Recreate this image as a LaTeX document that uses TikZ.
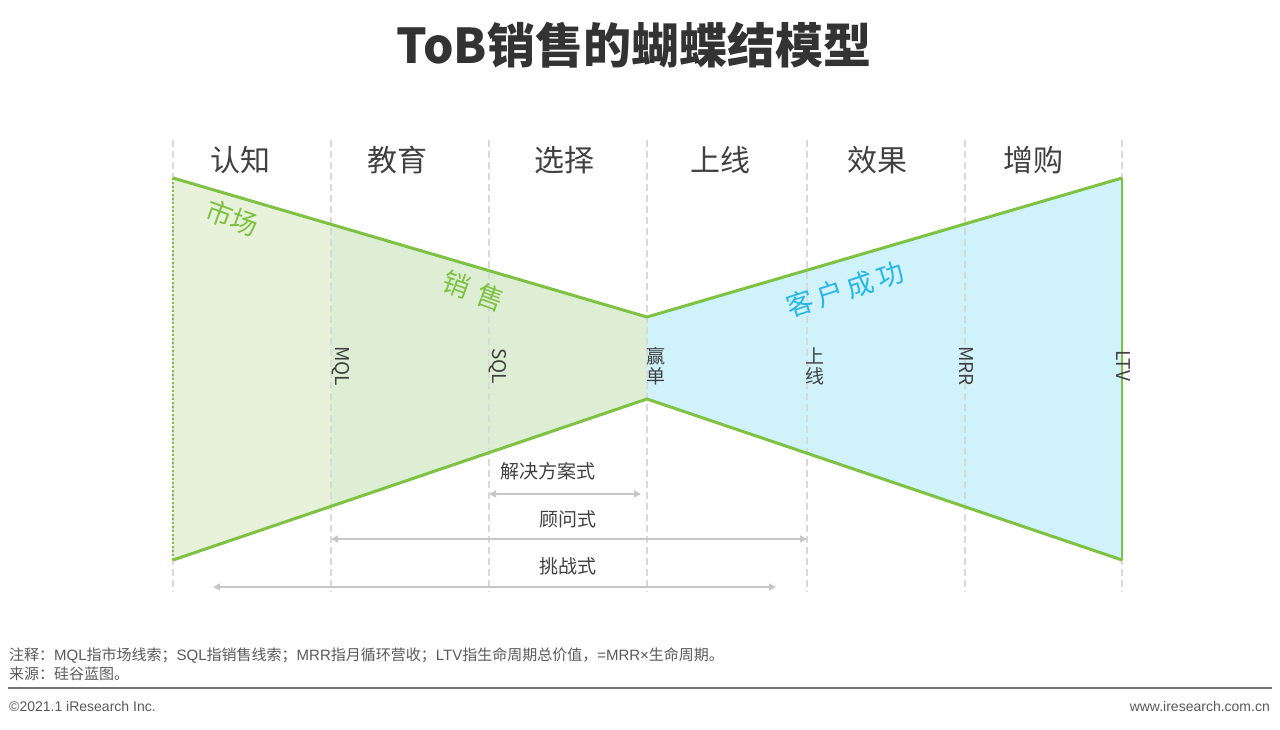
\documentclass[tikz,border=0pt]{standalone}
\usepackage{fontspec}
\setmainfont{Liberation Sans}
\newfontfamily\cjk{Noto Sans CJK SC}
\usetikzlibrary{arrows.meta}
\definecolor{gline}{HTML}{7DC241}
\definecolor{gfillA}{HTML}{E8F2DB}
\definecolor{gfillB}{HTML}{DDEED5}
\definecolor{bfill}{HTML}{CFF2FB}
\definecolor{ctext}{HTML}{29B6E8}
\definecolor{dtext}{HTML}{404040}
\tikzset{
  vdash/.style={draw=black!15,line width=1.5pt,dash pattern=on 7pt off 4pt},
  hdr/.style={font=\cjk\fontsize{30}{32}\selectfont,text=dtext},
  rot/.style={font=\cjk\fontsize{19}{20}\selectfont,text=dtext,inner sep=0pt},
  arr/.style={draw=black!22,line width=1.5pt,{Triangle[length=7pt,width=7pt]}-{Triangle[length=7pt,width=7pt]}},
  alab/.style={font=\cjk\fontsize{19}{20}\selectfont,text=dtext},
  foot/.style={font=\cjk\fontsize{15}{16}\selectfont,text=black!65,anchor=west,inner sep=0pt},
}
\begin{document}
\begin{tikzpicture}[x=1pt,y=-1pt]
\useasboundingbox (0,0) rectangle (1280,730);
% fills
\fill[gfillA] (173,178) -- (331,224) -- (331,507) -- (173,560) -- cycle;
\fill[gfillB] (331,224) -- (647,317) -- (647,399) -- (331,507) -- cycle;
\fill[bfill] (647,317) -- (1122,178) -- (1122,560) -- (647,399) -- cycle;
% dashed verticals
\foreach \x/\n in {173/v0,331/v1,489/v2,647/v3,807/v4,965/v5,1122/v6}{
  \coordinate (\n t) at (\x,140); \coordinate (\n b) at (\x,592);
  \draw[vdash] (\n t) -- (\n b);
}
\draw[gline,line width=1.5pt,dash pattern=on 2pt off 2pt] (173,178) -- (173,560);
\draw[gline,line width=1.5pt] (1122,178) -- (1122,560);
% outlines
\draw[gline,line width=3pt,line join=round] (173,178) -- (647,317) -- (1122,178);
\draw[gline,line width=3pt,line join=round] (173,560) -- (647,399) -- (1122,560);
% headers
\foreach \x/\t/\n in {240/认知/h1,397/教育/h2,564/选择/h3,720/上线/h4,877/效果/h5,1033/增购/h6}
  \node[hdr] (\n) at (\x,160) {\t};
% rotated markers
\node[rot,rotate=-90] (mql) at (341,366) {MQL};
\node[rot,rotate=-90] (sql) at (498,366) {SQL};
\node[rot,rotate=-90] (mrr) at (966,366) {MRR};
\node[rot,rotate=-90] (ltv) at (1123,366) {LTV};
\node[rot] (win1) at (656,356) {赢};
\node[rot] (win2) at (656,376) {单};
\node[rot] (onl1) at (815,356) {上};
\node[rot] (onl2) at (815,376) {线};
% region labels
\node[font=\cjk\fontsize{27}{28}\selectfont,text=gline,rotate=-20,inner sep=0pt] (mkt) at (232,218) {市场};
\node[font=\cjk\fontsize{27}{28}\selectfont,text=gline,rotate=-20,inner sep=0pt] (sal) at (474,291) {销\,\,售};
\node[font=\cjk\fontsize{27}{28}\selectfont,text=ctext,rotate=18,inner sep=0pt] (cs) at (845,289) {客\,户\,成\,功};
% arrows
\node[alab] (l1) at (548,471) {解决方案式};
\coordinate (a1s) at (489,494); \coordinate (a1e) at (641,494);
\draw[arr] (a1s) -- (a1e);
\node[alab] (l2) at (568,519) {顾问式};
\coordinate (a2s) at (331,539); \coordinate (a2e) at (807,539);
\draw[arr] (a2s) -- (a2e);
\node[alab] (l3) at (568,566) {挑战式};
\coordinate (a3s) at (213,587); \coordinate (a3e) at (776,587);
\draw[arr] (a3s) -- (a3e);
% title
\node[font=\cjk\bfseries\fontsize{48}{50}\selectfont,text=black!80] (title) at (634,45) {ToB销售的蝴蝶结模型};
% footer
\node[foot] (n1) at (9,656) {注释：{\rmfamily MQL}指市场线索；{\rmfamily SQL}指销售线索；{\rmfamily MRR}指月循环营收；{\rmfamily LTV}指生命周期总价值，{\rmfamily =MRR×}生命周期。};
\node[foot] (n2) at (9,674) {来源：硅谷蓝图。};
\coordinate (fl) at (8,688); \coordinate (fr) at (1272,688);
\draw[black!55,line width=1.5pt] (fl) -- (fr);
\node[foot,font=\fontsize{14}{15}\selectfont] (c) at (9,706) {©2021.1 iResearch Inc.};
\node[foot,anchor=east,font=\fontsize{14}{15}\selectfont] (w) at (1270,706) {www.iresearch.com.cn};
\end{tikzpicture}
\end{document}
